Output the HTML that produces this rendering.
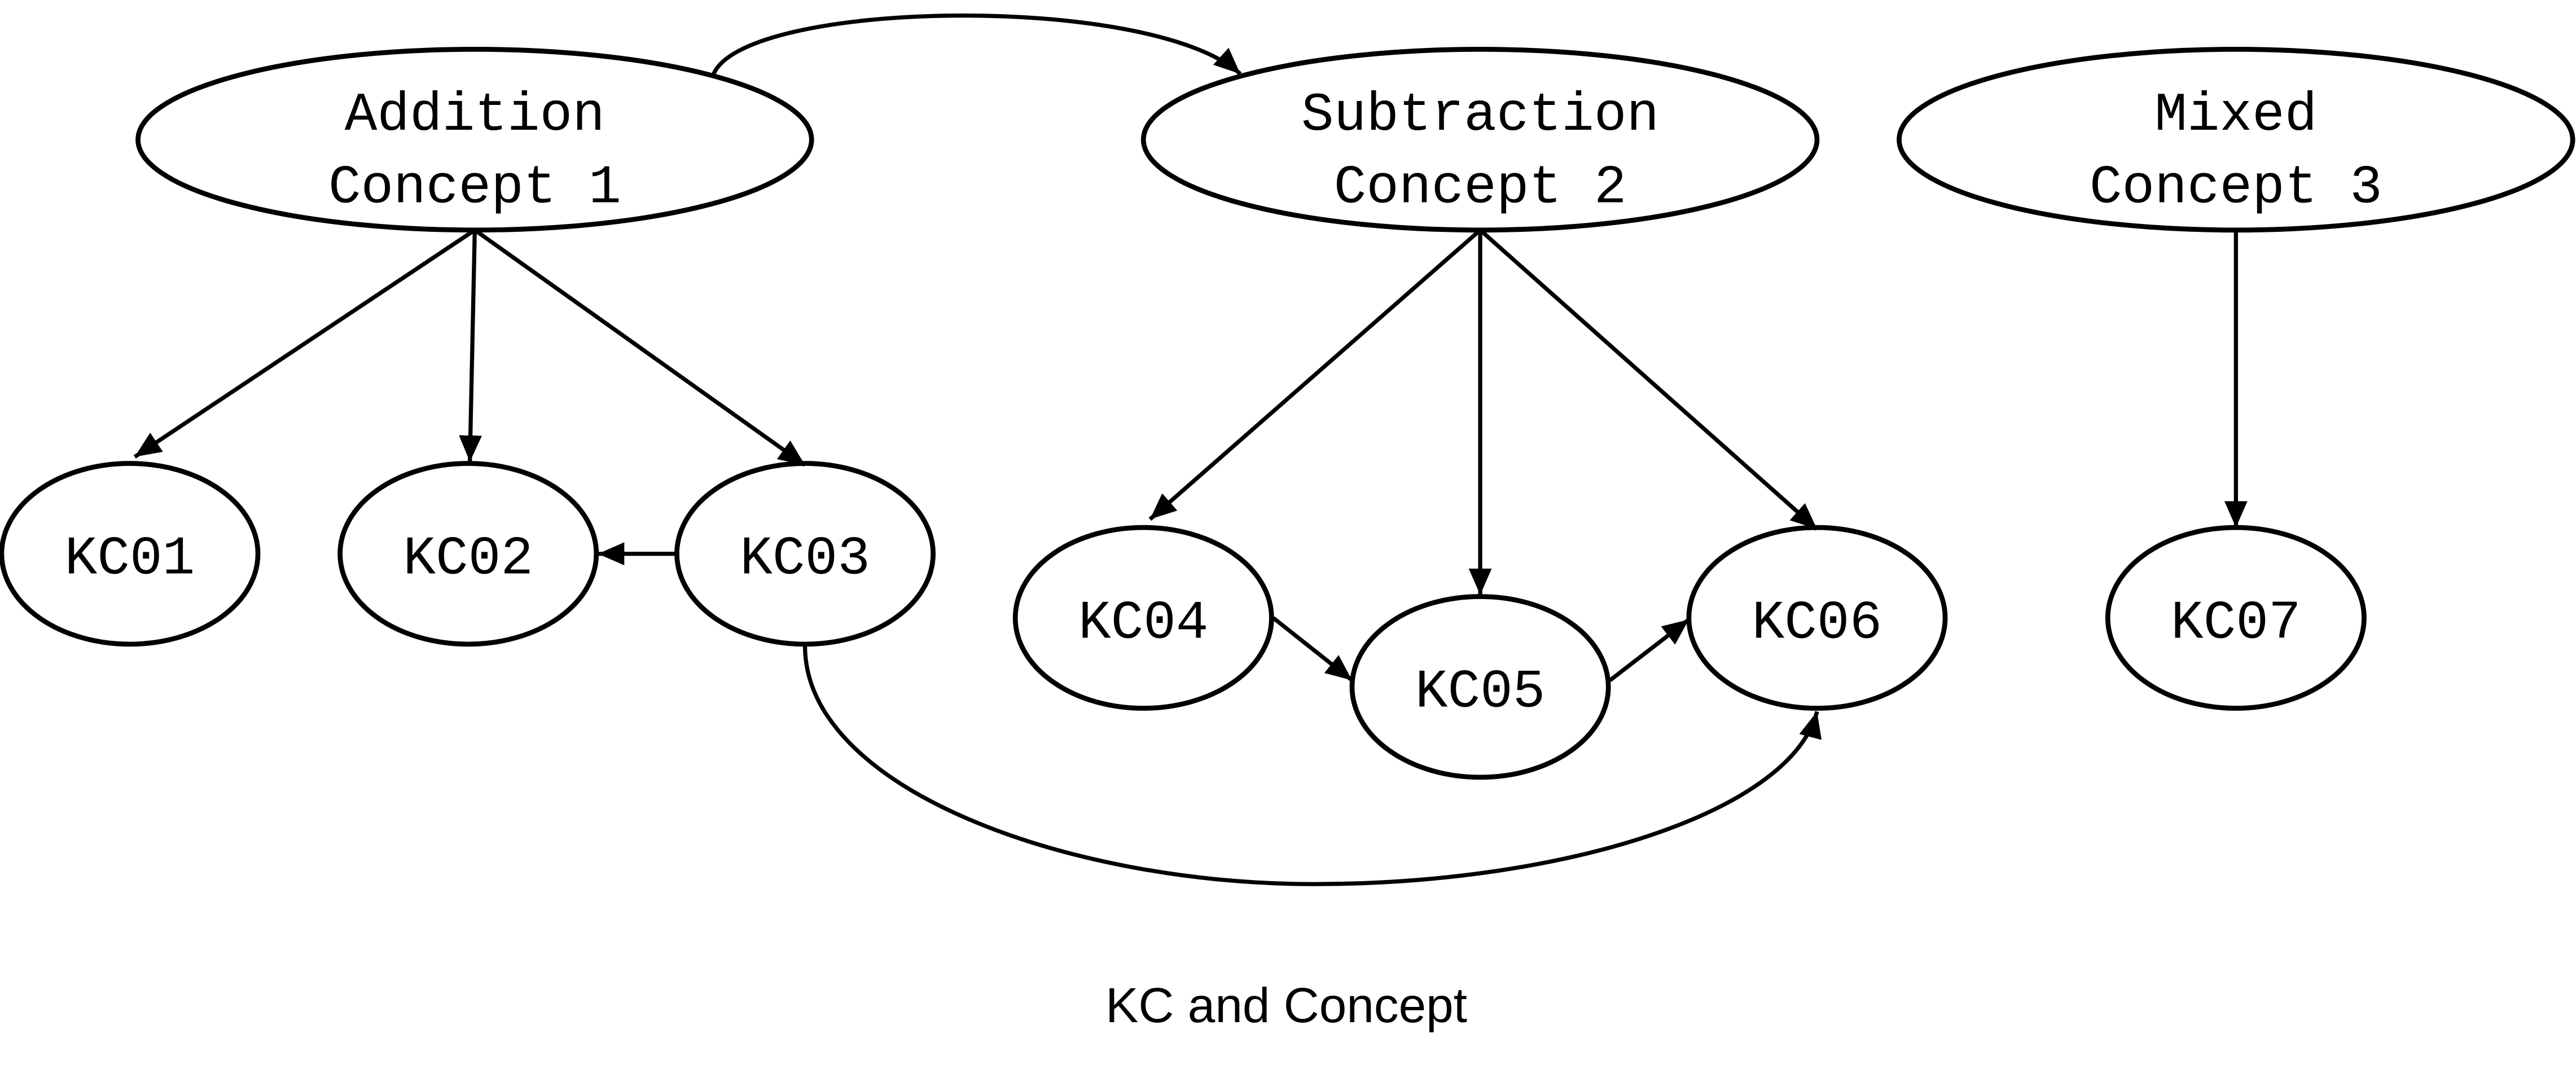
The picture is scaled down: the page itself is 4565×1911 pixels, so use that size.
<!DOCTYPE html>
<html><head><meta charset="utf-8"><style>
html,body{margin:0;padding:0;background:#fff;}
svg{display:block;}
.n{font-family:"Liberation Mono","Noto Serif CJK SC",monospace;font-size:33px;fill:#000;text-anchor:middle;}
</style></head><body>
<svg width="4565" height="1911" viewBox="0 0 1568 656" preserveAspectRatio="none" xmlns="http://www.w3.org/2000/svg">
<defs><marker id="a" markerWidth="10" markerHeight="10" refX="9" refY="5" orient="auto" markerUnits="userSpaceOnUse"><path d="M0,0 L10,5 L0,10 z" fill="#000" transform="scale(1.6) translate(-3.5,-2)"/></marker>
<marker id="b" viewBox="0 0 16 14" markerWidth="16" markerHeight="14" refX="16" refY="7" orient="auto" markerUnits="userSpaceOnUse"><path d="M0,0 L16,7 L0,14 z" fill="#000"/></marker></defs>
<g fill="#fff" stroke="#000" stroke-width="3">
<ellipse cx="289" cy="85" rx="205" ry="55"/>
<ellipse cx="901" cy="85" rx="205" ry="55"/>
<ellipse cx="1361" cy="85" rx="205" ry="55"/>
<ellipse cx="79" cy="337" rx="78" ry="55"/>
<ellipse cx="285" cy="337" rx="78" ry="55"/>
<ellipse cx="490" cy="337" rx="78" ry="55"/>
<ellipse cx="696" cy="376" rx="78" ry="55"/>
<ellipse cx="901" cy="418" rx="78" ry="55"/>
<ellipse cx="1106" cy="376" rx="78" ry="55"/>
<ellipse cx="1361" cy="376" rx="78" ry="55"/>
</g>
<g stroke="#000" stroke-width="2.5" fill="none" marker-end="url(#b)">
<line x1="289" y1="140" x2="82" y2="278"/>
<line x1="289" y1="140" x2="286" y2="281"/>
<line x1="289" y1="140" x2="490" y2="283"/>
<line x1="901" y1="140" x2="700" y2="316"/>
<line x1="901" y1="140" x2="901" y2="362"/>
<line x1="901" y1="140" x2="1106" y2="322"/>
<line x1="1361" y1="140" x2="1361" y2="321"/>
<line x1="412" y1="337" x2="364" y2="337"/>
<line x1="775" y1="376" x2="823" y2="414"/>
<line x1="980" y1="414" x2="1028" y2="377"/>
<path d="M490,393 C490,480 650,538 800,538 C950,538 1090,495 1106,433"/>
<path d="M434,46 C450,0 700,-5 755,45"/>
</g>
<g class="n">
<text x="289" y="79">Addition</text><text x="289" y="123">Concept 1</text>
<text x="901" y="79">Subtraction</text><text x="901" y="123">Concept 2</text>
<text x="1361" y="79">Mixed</text><text x="1361" y="123">Concept 3</text>
<text x="79" y="349">KC01</text><text x="285" y="349">KC02</text><text x="490" y="349">KC03</text>
<text x="696" y="388">KC04</text><text x="901" y="430">KC05</text><text x="1106" y="388">KC06</text>
<text x="1361" y="388">KC07</text>
</g>
<text x="783" y="622" text-anchor="middle" font-family="Liberation Sans,sans-serif" font-size="30">KC and Concept</text>
</svg>
</body></html>
